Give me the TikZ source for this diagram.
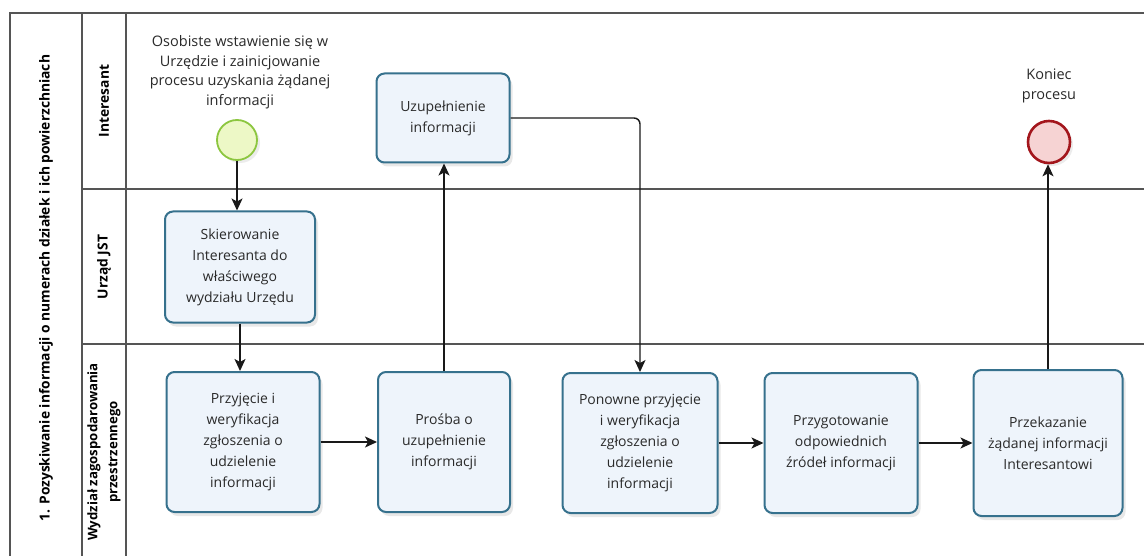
\documentclass[tikz,border=0pt]{standalone}
\usepackage{fontspec}
\setmainfont{Open Sans}
\usetikzlibrary{arrows.meta,shadows}
\definecolor{boxline}{HTML}{36718D}
\definecolor{boxfill}{HTML}{EEF4FB}
\definecolor{txt}{HTML}{2A2A2A}
\definecolor{frame}{HTML}{555555}
\definecolor{startfill}{HTML}{EDF8C6}
\definecolor{startline}{HTML}{8CC63F}
\definecolor{endfill}{HTML}{F6D3D3}
\definecolor{endline}{HTML}{A3161C}
\begin{document}
\begin{tikzpicture}[x=1pt,y=-1pt,
  task/.style={draw=boxline, line width=2pt, rounded corners=8pt, fill=boxfill,
    align=center, font=\fontsize{14}{21}\selectfont, text=txt, inner sep=0pt,
    drop shadow={opacity=0.18, shadow xshift=3pt, shadow yshift=-4pt}},
  evlabel/.style={align=center, font=\fontsize{14.5}{19.5}\selectfont, text=txt},
  lanelabel/.style={rotate=90, align=center, font=\fontsize{13.8}{20}\selectfont\bfseries, text=black},
  frameline/.style={draw=frame, line width=1.4pt},
  flow/.style={draw=black!90, line width=1.4pt, -{Stealth[length=12pt,width=11pt,inset=3pt]}}]
\useasboundingbox[fill=white] (0,0) rectangle (1144,556);
% frame
\draw[frameline] (1144,13) -- (10,13) -- (10,556);
\draw[frameline] (82,13) -- (82,556);
\draw[frameline] (126,13) -- (126,556);
\draw[frameline] (82,189) -- (1144,189);
\draw[frameline] (82,344) -- (1144,344);
% lane labels
\node[lanelabel] (pool) at (46,288) {1. Pozyskiwanie informacji o numerach działek i ich powierzchniach};
\node[lanelabel] (l1) at (104,101) {Interesant};
\node[lanelabel] (l2) at (104,267) {Urząd JST};
\node[lanelabel, font=\fontsize{13.2}{20}\selectfont\bfseries] (l3) at (104,452) {Wydział zagospodarowania\\przestrzennego};
% events
\node[circle, draw=startline, line width=1.8pt, fill=startfill, minimum size=40pt, inner sep=0pt,
  drop shadow={opacity=0.15, shadow xshift=3pt, shadow yshift=-3pt}] (start) at (237,140) {};
\node[evlabel] (startlbl) at (240,72) {Osobiste wstawienie się w\\Urzędzie i zainicjowanie\\procesu uzyskania żądanej\\informacji};
\node[circle, draw=endline, line width=2.6pt, fill=endfill, minimum size=42pt, inner sep=0pt,
  drop shadow={opacity=0.15, shadow xshift=3pt, shadow yshift=-3pt}] (end) at (1049,142) {};
\node[evlabel] (endlbl) at (1049,86) {Koniec\\procesu};
% tasks
\node[task, minimum width=150pt, minimum height=111pt] (skier) at (240,267) {Skierowanie\\Interesanta do\\właściwego\\wydziału Urzędu};
\node[task, minimum width=153pt, minimum height=140pt] (przyj) at (243,442) {Przyjęcie i\\weryfikacja\\zgłoszenia o\\udzielenie\\informacji};
\node[task, minimum width=133pt, minimum height=89pt] (uzup) at (443,118) {Uzupełnienie\\informacji};
\node[task, minimum width=132pt, minimum height=140pt] (prosba) at (444,442) {Prośba o\\uzupełnienie\\informacji};
\node[task, minimum width=155pt, minimum height=140pt] (ponow) at (640,443) {Ponowne przyjęcie\\i weryfikacja\\zgłoszenia o\\udzielenie\\informacji};
\node[task, minimum width=153pt, minimum height=140pt] (przyg) at (841,443) {Przygotowanie\\odpowiednich\\źródeł informacji};
\node[task, minimum width=149pt, minimum height=146pt] (przek) at (1048,443) {Przekazanie\\żądanej informacji\\Interesantowi};
% flows
\draw[flow] (start.south) -- (start.south |- skier.north);
\draw[flow] (skier.south) -- (skier.south |- przyj.north);
\draw[flow] (przyj.east) -- (prosba.west);
\draw[flow] (prosba.north) -- (prosba.north |- uzup.south);
\draw[flow, rounded corners=6pt] (uzup.east) -| (ponow.north);
\draw[flow] (ponow.east) -- (przyg.west);
\draw[flow] (przyg.east) -- (przek.west);
\draw[flow] (przek.north) -- (przek.north |- end.south);
\end{tikzpicture}
\end{document}
